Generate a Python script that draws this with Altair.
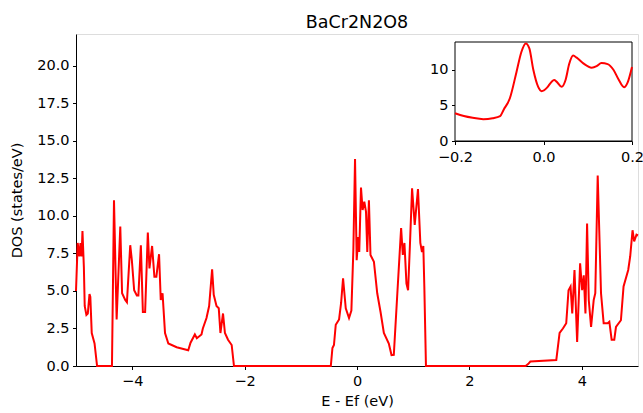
import altair as alt
import pandas as pd

# Main DOS curve (energy in eV, DOS in states/eV)
energy = [
    -5.00, -4.97, -4.94, -4.92, -4.90, -4.885, -4.86, -4.845, -4.815, -4.79,
    -4.76, -4.745, -4.72, -4.67, -4.625, -4.36, -4.324, -4.277, -4.212, -4.18,
    -4.124, -4.094, -4.035, -4.006, -3.965, -3.917, -3.89, -3.846, -3.81, -3.77,
    -3.722, -3.693, -3.646, -3.605, -3.57, -3.522, -3.492, -3.46, -3.416, -3.357,
    -3.209, -3.003, -2.962, -2.885, -2.85, -2.767, -2.743, -2.678, -2.631, -2.578,
    -2.549, -2.50, -2.46, -2.43, -2.384, -2.35, -2.295, -2.23, -2.189, -0.466,
    -0.437, -0.41, -0.378, -0.319, -0.283, -0.248, -0.20, -0.142, -0.10, -0.065,
    -0.035, -0.006, 0.024, 0.04, 0.071, 0.10, 0.13, 0.16, 0.183, 0.212,
    0.24, 0.301, 0.36, 0.419, 0.478, 0.566, 0.614, 0.655, 0.714, 0.785,
    0.815, 0.844, 0.88, 0.909, 0.94, 0.98, 1.027, 1.085, 1.127, 1.156,
    1.18, 1.198, 1.227, 3.00, 3.044, 3.085, 3.546, 3.605, 3.664, 3.723,
    3.764, 3.80, 3.83, 3.87, 3.917, 3.97, 4.006, 4.035, 4.065, 4.094,
    4.124, 4.165, 4.212, 4.24, 4.283, 4.342, 4.389, 4.46, 4.49, 4.531,
    4.578, 4.608, 4.696, 4.743, 4.826, 4.861, 4.903, 4.932, 4.973, 5.00,
]
dos = [
    5.0, 8.2, 7.3, 8.2, 7.3, 9.0, 6.6, 4.0, 3.4, 3.5,
    4.8, 4.6, 2.2, 1.5, 0.0, 0.0, 11.05, 3.1, 9.3, 4.85,
    4.4, 4.25, 8.05, 7.05, 5.05, 4.7, 4.7, 8.05, 3.6, 3.6,
    8.9, 6.5, 8.0, 5.95, 5.95, 7.45, 4.4, 4.85, 2.2, 1.5,
    1.25, 1.05, 1.55, 2.1, 1.85, 2.1, 2.5, 3.2, 4.0, 6.45,
    4.75, 4.0, 3.85, 2.2, 3.5, 2.2, 1.75, 1.4, 0.0, 0.0,
    1.2, 1.4, 2.75, 3.1, 4.2, 5.85, 3.85, 3.2, 3.7, 7.7,
    13.8, 7.05, 8.6, 7.6, 11.9, 10.4, 10.95, 10.3, 7.6, 11.05,
    7.4, 6.95, 4.85, 3.6, 2.2, 1.5, 0.73, 0.75, 4.6, 9.2,
    7.4, 8.2, 5.5, 5.05, 7.9, 11.85, 9.4, 11.8, 8.2, 7.6,
    8.0, 5.3, 0.0, 0.0, 0.13, 0.3, 0.4, 2.2, 2.5, 2.85,
    5.05, 5.3, 3.5, 6.4, 1.6, 6.85, 5.05, 6.05, 3.5, 9.5,
    4.4, 2.6, 4.4, 4.85, 12.7, 4.85, 2.85, 2.85, 2.95, 1.75,
    1.75, 2.6, 3.05, 5.3, 6.4, 7.3, 9.05, 8.3, 8.75, 8.7,
]

# Inset: zoom around the Fermi level
inset_energy = [
    -0.2, -0.18, -0.16, -0.136, -0.115, -0.098, -0.09, -0.076, -0.061, -0.05,
    -0.04, -0.032, -0.023, -0.012, -0.004, 0.008, 0.018, 0.024, 0.03, 0.041,
    0.05, 0.058, 0.067, 0.075, 0.09, 0.109, 0.12, 0.131, 0.145, 0.158,
    0.17, 0.182, 0.19, 0.2,
]
inset_dos = [
    3.9, 3.5, 3.25, 3.07, 3.2, 3.5, 4.4, 6.0, 9.7, 12.5,
    13.7, 13.0, 10.0, 7.6, 7.0, 7.5, 8.3, 8.55, 8.3, 7.6,
    8.6, 10.8, 12.0, 11.7, 10.9, 10.3, 10.5, 10.95, 10.8, 10.0,
    8.6, 7.55, 8.2, 10.4,
]

x_ticks = [-4, -2, 0, 2, 4]
y_ticks = [0, 2.5, 5, 7.5, 10, 12.5, 15, 17.5, 20]
inset_x_ticks = [-0.2, 0.0, 0.2]
inset_y_ticks = [0, 5, 10]
x_domain = [-5, 5]
y_domain = [0, 22.13]
inset_x_domain = [-0.2, 0.2]
inset_y_domain = [0, 13.9]

FONT = "DejaVu Sans"
W, H = 562, 332

main_df = pd.DataFrame({"E": energy, "DOS": dos})
inset_df = pd.DataFrame({"E": inset_energy, "DOS": inset_dos})
frame_df = pd.DataFrame({
    "x0": [inset_x_domain[0]], "x1": [inset_x_domain[1]],
    "y0": [inset_y_domain[0]], "y1": [inset_y_domain[1]],
})

axis_common = dict(grid=False, domainColor="black", tickColor="black",
                   labelColor="black", titleColor="black", labelFont=FONT,
                   titleFont=FONT, labelFontSize=14.5, titleFontSize=14.5,
                   titleFontWeight="normal", tickSize=3.5,
                   domainWidth=1, tickWidth=1, labelFlush=False,
                   labelOverlap=False, labelBound=False)

main = alt.Chart(main_df).mark_line(color="#ff0000", strokeWidth=2).encode(
    x=alt.X("E:Q", scale=alt.Scale(domain=x_domain, nice=False, zero=False),
            axis=alt.Axis(values=x_ticks, format="d", title="E - Ef (eV)",
                          orient="bottom", titlePadding=7, labelPadding=4.5,
                          **axis_common)),
    y=alt.Y("DOS:Q", scale=alt.Scale(domain=y_domain, nice=False),
            axis=alt.Axis(values=y_ticks, format=".1f", title="DOS (states/eV)",
                          orient="left", titlePadding=12, labelPadding=3.5,
                          **axis_common)),
)

# inset positioned inside the plot area via pixel ranges
ix_scale = alt.Scale(domain=inset_x_domain, range=[379, 556], nice=False, zero=False)
iy_scale = alt.Scale(domain=inset_y_domain, range=[107, 8], nice=False)
ix_axis = alt.Axis(values=inset_x_ticks, format=".1f", title=None, orient="bottom",
                   offset=-(H - 107), labelPadding=5.5, **axis_common)
iy_axis = alt.Axis(values=inset_y_ticks, format="d", title=None, orient="left",
                   offset=-379, labelPadding=3.5, **axis_common)

frame = alt.Chart(frame_df).mark_rect(fill="white", stroke="black", strokeWidth=1).encode(
    x=alt.X("x0:Q", scale=ix_scale, axis=ix_axis),
    x2="x1:Q",
    y=alt.Y("y0:Q", scale=iy_scale, axis=iy_axis),
    y2="y1:Q",
)
inset_line = alt.Chart(inset_df).mark_line(color="#ff0000", strokeWidth=2,
                                           interpolate="monotone").encode(
    x=alt.X("E:Q", scale=ix_scale, axis=ix_axis),
    y=alt.Y("DOS:Q", scale=iy_scale, axis=iy_axis),
)
inset = alt.layer(frame, inset_line)

chart = alt.layer(main, inset).resolve_scale(
    x="independent", y="independent"
).properties(
    width=W, height=H,
    title=alt.TitleParams("BaCr2N2O8", font=FONT, fontSize=17.5, fontWeight="normal",
                          color="black", anchor="middle", baseline="alphabetic",
                          offset=-11.5),
    autosize=alt.AutoSizeParams(type="none"),
    padding={"left": 76, "top": 34, "right": 5, "bottom": 47},
).configure_view(stroke="black", strokeWidth=1).configure(background="white")

chart.save("out.html", embed_options={"renderer": "svg", "actions": False})
